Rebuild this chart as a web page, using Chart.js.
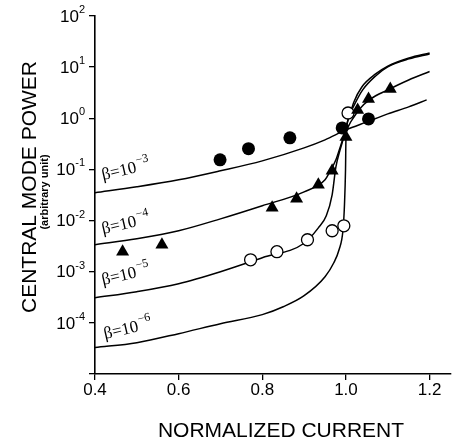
<!DOCTYPE html>
<html>
<head>
<meta charset="utf-8">
<script src="https://cdn.jsdelivr.net/npm/chart.js@4.4.1/dist/chart.umd.min.js"></script>
<style>
  html, body { margin: 0; padding: 0; background: #fff; }
  #wrap { width: 458px; height: 443px; }
</style>
</head>
<body>
<div id="wrap"><canvas id="powerChart" width="458" height="443"></canvas></div>
<script>
// --- Axis ticks ---
const xTicks = [0.4, 0.6, 0.8, 1.0, 1.2];
const yTickExps = [-5, -4, -3, -2, -1, 0, 1, 2];

// --- Theory curves ---
const b3X = [0.4, 0.5, 0.6, 0.7, 0.8, 0.9, 0.95, 1.0, 1.05, 1.1, 1.15, 1.193];
const b3Y = [0.0349, 0.0457, 0.0626, 0.094, 0.147, 0.264, 0.379, 0.593, 0.851, 1.22, 1.67, 2.29];

const b4X = [0.4, 0.5, 0.6, 0.7, 0.8, 0.9, 0.95, 0.96, 0.976, 0.988, 0.998, 1.031, 1.059, 1.1, 1.15, 1.2];
const b4Y = [0.00337, 0.00441, 0.00632, 0.0108, 0.0195, 0.0365, 0.0626, 0.0859, 0.154, 0.302, 0.519, 1.46, 2.39, 3.59, 5.62, 8.2];

const b5X = [0.4, 0.5, 0.6, 0.7, 0.8, 0.9, 0.934, 0.953, 0.967, 0.976, 0.986, 0.995, 1.007, 1.02, 1.04, 1.071, 1.1, 1.151, 1.2];
const b5Y = [3.1e-4, 4.07e-4, 5.83e-4, 1.0e-3, 1.88e-3, 3.6e-3, 7.2e-3, 0.0124, 0.0319, 0.112, 0.241, 0.434, 1.07, 1.83, 3.59, 6.73, 10.1, 14.5, 18.1];

const b6X = [0.4, 0.5, 0.6, 0.7, 0.8, 0.85, 0.9, 0.95, 0.971, 0.9835, 0.993, 0.9965, 0.999, 1.0, 1.007, 1.019, 1.038, 1.071, 1.1, 1.151, 1.2];
const b6Y = [3.28e-5, 4.1e-5, 6.15e-5, 9.64e-5, 1.45e-4, 2.07e-4, 3.4e-4, 7.98e-4, 1.5e-3, 2.69e-3, 6.61e-3, 0.0204, 0.0982, 0.379, 1.02, 2.09, 4.1, 7.36, 10.5, 15.1, 18.9];

// --- Measured points ---
const filledX = [0.699, 0.767, 0.866, 0.991, 1.054];
const filledY = [0.154, 0.255, 0.414, 0.649, 0.973];

const triX = [0.466, 0.56, 0.8235, 0.882, 0.934, 0.967, 1.0, 1.028, 1.054, 1.106];
const triY = [0.00246, 0.00337, 0.0178, 0.0267, 0.050, 0.094, 0.433, 1.46, 2.39, 3.75];

const openX = [0.772, 0.835, 0.908, 0.967, 0.995, 1.005];
const openY = [0.00171, 0.00246, 0.00422, 0.00633, 0.00791, 1.27];

const betaExps = ['\u22123', '\u22124', '\u22125', '\u22126'];

// --- Helpers ---
const pts = (xs, ys) => xs.map((x, i) => ({ x: x, y: ys[i] }));
const SANS = '"Liberation Sans", Arial, Helvetica, sans-serif';
const SERIF = '"Liberation Serif", "Times New Roman", serif';

const curve = (xs, ys) => ({
    type: 'line',
    data: pts(xs, ys),
    borderColor: '#000',
    borderWidth: 1.5,
    pointRadius: 0,
    fill: false,
    cubicInterpolationMode: 'monotone'
});

// text that Chart.js can't do itself: superscripts, rotated labels
const figureText = {
    id: 'figureText',
    afterDraw(chart) {
        const { ctx, scales: { x, y } } = chart;
        ctx.save();
        ctx.fillStyle = '#000';

        // y tick labels 10^n
        yTickExps.forEach(e => {
            if (e === -5) return;
            const py = y.getPixelForValue(Math.pow(10, e));
            const sup = String(e);
            ctx.font = '11px ' + SANS;
            const supW = ctx.measureText(sup).width;
            ctx.font = '17px ' + SANS;
            const baseW = ctx.measureText('10').width;
            const right = 85;
            ctx.textAlign = 'left';
            ctx.textBaseline = 'middle';
            ctx.fillText('10', right - supW - baseW, py + 1);
            ctx.font = '11px ' + SANS;
            ctx.fillText(sup, right - supW, py - 6);
        });

        // beta labels along the curves
        const anchors = [[103, 180], [103, 234], [103, 285], [105, 339]];
        anchors.forEach((a, i) => {
            ctx.save();
            ctx.translate(a[0], a[1]);
            ctx.rotate(-13 * Math.PI / 180);
            ctx.textAlign = 'left';
            ctx.textBaseline = 'alphabetic';
            ctx.font = '17px ' + SERIF;
            ctx.fillText('\u03B2=10', 0, 0);
            const w = ctx.measureText('\u03B2=10').width;
            ctx.font = '12px ' + SERIF;
            ctx.fillText(betaExps[i], w + 1, -8);
            ctx.restore();
        });

        // axis titles
        ctx.textAlign = 'center';
        ctx.textBaseline = 'middle';
        ctx.font = '21px ' + SANS;
        ctx.fillText('NORMALIZED CURRENT', 281, 431);

        ctx.save();
        ctx.translate(30, 187);
        ctx.rotate(-Math.PI / 2);
        ctx.fillText('CENTRAL MODE POWER', 0, 0);
        ctx.restore();

        ctx.save();
        ctx.translate(45, 192);
        ctx.rotate(-Math.PI / 2);
        ctx.font = 'bold 11px ' + SANS;
        ctx.fillText('(arbitrary unit)', 0, 0);
        ctx.restore();

        ctx.restore();
    }
};

const ctx = document.getElementById('powerChart').getContext('2d');
const powerChart = new Chart(ctx, {
    type: 'scatter',
    data: {
        datasets: [
            {
                data: pts(filledX, filledY),
                pointStyle: 'circle',
                pointRadius: 6.5,
                backgroundColor: '#000',
                borderColor: '#000',
                borderWidth: 0
            },
            {
                data: pts(triX, triY),
                pointStyle: 'triangle',
                pointRadius: 7.5,
                backgroundColor: '#000',
                borderColor: '#000',
                borderWidth: 0
            },
            {
                data: pts(openX, openY),
                pointStyle: 'circle',
                pointRadius: 6,
                backgroundColor: '#fff',
                borderColor: '#000',
                borderWidth: 1.3
            },
            curve(b3X, b3Y),
            curve(b4X, b4Y),
            curve(b5X, b5Y),
            curve(b6X, b6Y)
        ]
    },
    options: {
        responsive: false,
        devicePixelRatio: 1,
        animation: false,
        layout: { padding: { top: 16, right: 1, bottom: 0, left: 0 } },
        plugins: { legend: { display: false }, tooltip: { enabled: false } },
        scales: {
            x: {
                type: 'linear',
                min: 0.4,
                max: 1.25,
                afterBuildTicks: s => { s.ticks = xTicks.map(v => ({ value: v })); },
                afterFit: s => { s.height = 69; },
                ticks: {
                    color: '#000',
                    padding: 0,
                    font: { family: SANS, size: 17 },
                    callback: v => Number(v).toFixed(1)
                },
                grid: { drawOnChartArea: false, drawTicks: true, tickLength: 6, color: '#000', lineWidth: 1.3 },
                border: { display: true, color: '#000', width: 1.6 }
            },
            y: {
                type: 'logarithmic',
                min: 1e-5,
                max: 100,
                afterBuildTicks: s => { s.ticks = yTickExps.map(e => ({ value: Math.pow(10, e) })); },
                afterFit: s => { s.width = 95; },
                ticks: { display: false },
                grid: { drawOnChartArea: false, drawTicks: true, tickLength: 6, color: '#000', lineWidth: 1.3 },
                border: { display: true, color: '#000', width: 1.6 }
            }
        }
    },
    plugins: [figureText]
});
</script>
</body>
</html>
